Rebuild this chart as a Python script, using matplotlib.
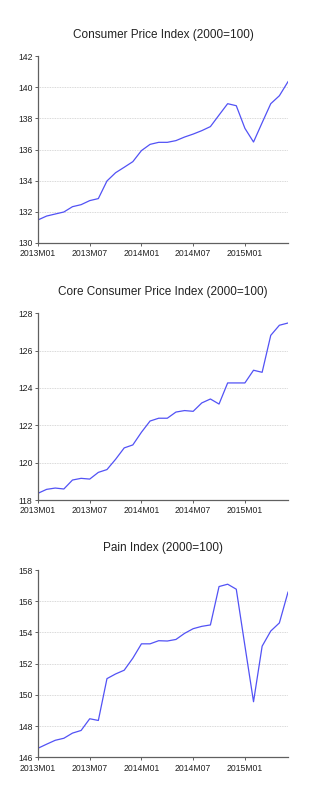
import matplotlib
matplotlib.use("Agg")
import matplotlib.pyplot as plt

plt.rcParams['font.family'] = ['Liberation Sans', 'DejaVu Sans']

months = [f"{y}M{m:02d}" for y in (2013, 2014, 2015) for m in range(1, 13)][:30]

cpi = [131.48, 131.73, 131.86, 131.99, 132.33, 132.46, 132.72, 132.85, 133.98, 134.51,
       134.86, 135.22, 135.93, 136.33, 136.46, 136.46, 136.57, 136.80, 136.99, 137.21,
       137.47, 138.21, 138.94, 138.81, 137.36, 136.48, 137.72, 138.94, 139.45, 140.35]

core = [118.36, 118.57, 118.64, 118.59, 119.07, 119.16, 119.12, 119.48, 119.63, 120.18,
        120.79, 120.95, 121.63, 122.23, 122.38, 122.38, 122.71, 122.79, 122.75, 123.20,
        123.41, 123.14, 124.27, 124.27, 124.27, 124.95, 124.84, 126.82, 127.36, 127.48]

pain = [146.58, 146.84, 147.09, 147.22, 147.55, 147.72, 148.47, 148.36, 151.04, 151.34,
        151.58, 152.35, 153.27, 153.27, 153.47, 153.45, 153.55, 153.94, 154.24, 154.39,
        154.48, 156.94, 157.09, 156.77, 153.15, 149.56, 153.12, 154.09, 154.61, 156.58]

titles = ["Consumer Price Index (2000=100)",
          "Core Consumer Price Index (2000=100)",
          "Pain Index (2000=100)"]
series = [cpi, core, pain]
yranges = [(130, 142, 2), (118, 128, 2), (146, 158, 2)]
xtick_labels = ["2013M01", "2013M07", "2014M01", "2014M07", "2015M01"]

W, H = 323, 800
fig = plt.figure(figsize=(W / 100, H / 100), dpi=100)
# (top, bottom, title_y) in pixels
layout = [(56, 243, 35), (313.3, 500, 291.7), (570, 757.3, 548)]
left, right = 38, 288

line_color = "#5252f5"
spine_color = "#606060"
text_color = "#222222"

for vals, title, (y0, y1, st), (top, bot, ty) in zip(series, titles, yranges, layout):
    ax = fig.add_axes([left / W, 1 - bot / H, (right - left) / W, (bot - top) / H])
    x = list(range(len(vals)))
    ax.plot(x, vals, color=line_color, lw=0.9)
    ax.set_xlim(0, len(vals) - 1)
    ax.set_ylim(y0, y1)
    yt = list(range(y0, y1 + 1, st))
    ax.set_yticks(yt)
    ax.set_yticklabels([str(v) for v in yt])
    for v in yt[1:-1]:
        ax.axhline(v, color="#cccccc", lw=0.6, ls=(0, (1, 1)), zorder=0)
    xt = [months.index(l) for l in xtick_labels]
    ax.set_xticks(xt)
    ax.set_xticklabels(xtick_labels)
    for s in ("top", "right"):
        ax.spines[s].set_visible(False)
    for s in ("left", "bottom"):
        ax.spines[s].set_color(spine_color)
        ax.spines[s].set_linewidth(0.9)
    ax.tick_params(axis="both", direction="out", length=2.5, width=0.7,
                   color=spine_color, labelsize=6.2, labelcolor=text_color, pad=1.5)
    ax.tick_params(axis="x", pad=2)
    fig.text((left + right) / 2 / W, 1 - ty / H, title, ha="center", va="center",
             fontsize=8.5, color=text_color)

fig.savefig("out.png", dpi=100)
